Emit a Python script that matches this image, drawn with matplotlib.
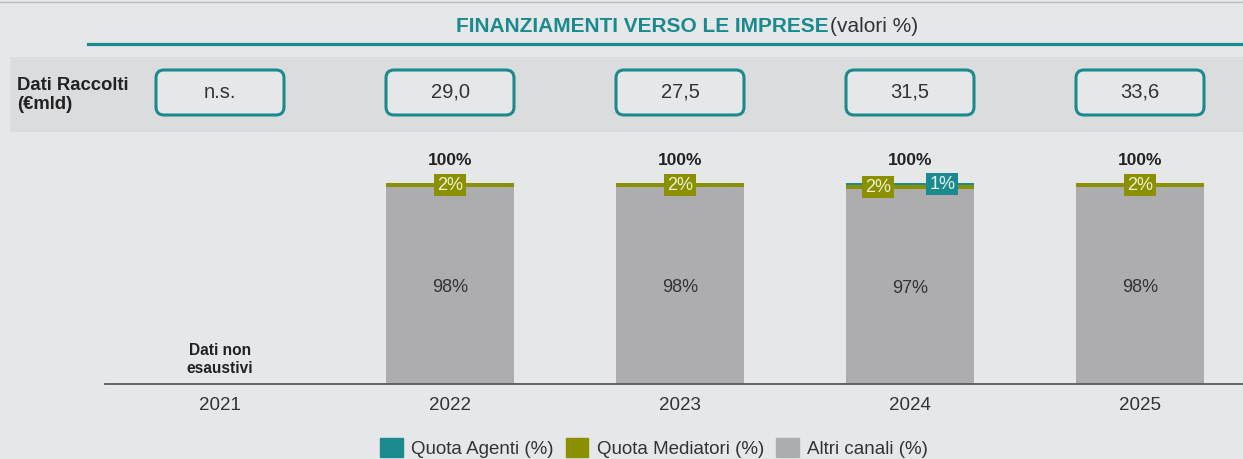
import numpy as np
import matplotlib
matplotlib.use('Agg')
import matplotlib.pyplot as plt
from matplotlib.patches import FancyBboxPatch, Patch
from matplotlib.lines import Line2D

plt.rcParams['font.family'] = ['Liberation Sans', 'DejaVu Sans']

# data
years = ['2021', '2022', '2023', '2024', '2025']
raccolti = ['n.s.', '29,0', '27,5', '31,5', '33,6']
altri = [np.nan, 98, 98, 97, 98]
mediatori = [np.nan, 2, 2, 2, 2]
agenti = [np.nan, 0, 0, 1, 0]
nota_2021 = 'Dati non\nesaustivi'

TEAL = '#1b8a8e'
OLIVE = '#8a9000'
GRAY = '#adadaf'
BG = '#e6e7e9'
BAND = '#dbdcde'
TXT = '#333333'

W, H = 1243, 459


def fx(px):
    return px / W


def fy(py):
    return 1 - py / H


fig = plt.figure(figsize=(W / 100, H / 100), dpi=100)
fig.patch.set_facecolor(BG)

# category spacing in pixels and centre of the first category
step, c0 = 230.0, 220.0

# header band with the "Dati Raccolti" boxes
hax = fig.add_axes([fx(10), fy(132), fx(1243) - fx(10), 75 / H])
hax.set_facecolor(BAND)
hax.set_xlim((10 - c0) / step, (W - c0) / step)
hax.set_ylim(0, 75)
hax.set_xticks([])
hax.set_yticks([])
for s in hax.spines.values():
    s.set_visible(False)
bw = 128 / step
for i, val in enumerate(raccolti):
    box = FancyBboxPatch((i - bw / 2, 17), bw, 45,
                         boxstyle='round,pad=0,rounding_size=0.035',
                         mutation_aspect=step, facecolor=BG, edgecolor=TEAL, lw=2.2)
    hax.add_patch(box)
    hax.text(i, 39.5, val, ha='center', va='center', fontsize=14.5, color=TXT)
fig.text(fx(17), fy(95), 'Dati Raccolti\n(€mld)', ha='left', va='center',
         fontsize=13.3, fontweight='bold', color='#222222', linespacing=1.2)

# stacked bars
ax = fig.add_axes([fx(105), fy(384), fx(W) - fx(105), fy(183) - fy(384)])
ax.set_facecolor('none')
ax.set_xlim(-0.5, (W - c0) / step)
ax.set_ylim(0, 100)
x = np.arange(len(years))
altri_a = np.array(altri, dtype=float)
med_a = np.array(mediatori, dtype=float)
ag_a = np.array(agenti, dtype=float)
ok = ~np.isnan(altri_a)
ax.bar(x[ok], altri_a[ok], bw, color=GRAY)
ax.bar(x[ok], med_a[ok], bw, bottom=altri_a[ok], color=OLIVE)
ax.bar(x[ok], ag_a[ok], bw, bottom=altri_a[ok] + med_a[ok], color=TEAL)

for i in x[ok]:
    tot = altri_a[i] + med_a[i] + ag_a[i]
    ax.annotate(f'{tot:.0f}%', (i, tot), xytext=(0, 16.5), textcoords='offset points',
                ha='center', va='center', fontsize=12.5, fontweight='bold', color='#222222')
    ax.text(i, altri_a[i] / 2 - 1, f'{altri_a[i]:.0f}%', ha='center', va='center',
            fontsize=13, color=TXT)
    off = 0.14 if ag_a[i] > 0 else 0
    ax.text(i - off, altri_a[i] + med_a[i] / 2, f'{med_a[i]:.0f}%', ha='center', va='center',
            fontsize=13, color='#eef0d0',
            bbox=dict(boxstyle='square,pad=0.15', fc=OLIVE, ec='none'))
    if ag_a[i] > 0:
        ax.text(i + off, altri_a[i] + med_a[i] + ag_a[i] / 2, f'{ag_a[i]:.0f}%',
                ha='center', va='center', fontsize=13, color='#e6f4f4',
                bbox=dict(boxstyle='square,pad=0.15', fc=TEAL, ec='none'))

ax.text(0, 12.4, nota_2021, ha='center', va='center', fontsize=11.2,
        fontweight='bold', color='#222222', linespacing=1.25)

for s in ['top', 'left', 'right']:
    ax.spines[s].set_visible(False)
ax.spines['bottom'].set_color('#5a5a5a')
ax.spines['bottom'].set_linewidth(1.3)
ax.set_yticks([])
ax.set_xticks(x)
ax.set_xticklabels(years, fontsize=13.5, color=TXT)
ax.tick_params(axis='x', length=0, pad=9.5)

# title and decorations
fig.text(fx(829), fy(27), 'FINANZIAMENTI VERSO LE IMPRESE', ha='right', va='center',
         fontsize=15, fontweight='bold', color=TEAL)
fig.text(fx(830), fy(27), '(valori %)', ha='left', va='center', fontsize=15, color=TXT)
fig.add_artist(Line2D([fx(88), 1], [fy(44), fy(44)], color=TEAL, lw=2.3))
fig.add_artist(Line2D([0, 1], [fy(2), fy(2)], color='#bdbdbd', lw=1))

handles = [Patch(color=TEAL, label='Quota Agenti (%)'),
           Patch(color=OLIVE, label='Quota Mediatori (%)'),
           Patch(color=GRAY, label='Altri canali (%)')]
fig.legend(handles=handles, loc='center', bbox_to_anchor=(fx(654), fy(448)), ncol=3,
           frameon=False, fontsize=13.5, handlelength=1.2, handleheight=1.2,
           handletextpad=0.45, columnspacing=0.65, labelcolor=TXT, borderpad=0)

fig.savefig('out.png', dpi=100, facecolor=BG)
